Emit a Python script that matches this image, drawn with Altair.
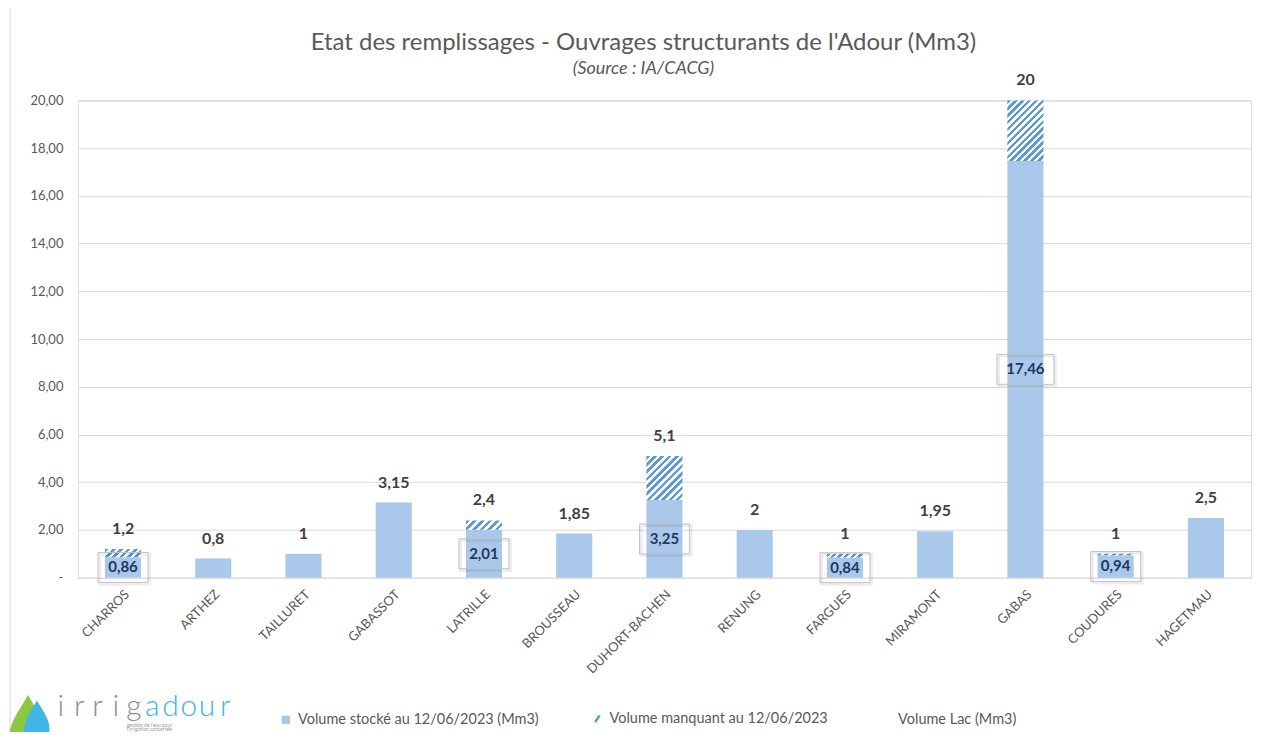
import altair as alt
import pandas as pd

# ---------------- data ----------------
names = ["CHARROS", "ARTHEZ", "TAILLURET", "GABASSOT", "LATRILLE", "BROUSSEAU",
         "DUHORT-BACHEN", "RENUNG", "FARGUES", "MIRAMONT", "GABAS", "COUDURES", "HAGETMAU"]
volume_lac = [1.2, 0.8, 1, 3.15, 2.4, 1.85, 5.1, 2, 1, 1.95, 20, 1, 2.5]
volume_stocke = [0.86, 0.8, 1, 3.15, 2.01, 1.85, 3.25, 2, 0.84, 1.95, 17.46, 0.94, 2.5]
series_names = ["Volume stocké au 12/06/2023 (Mm3)", "Volume manquant au 12/06/2023", "Volume Lac (Mm3)"]

df = pd.DataFrame({"name": names, "lac": volume_lac, "stocke": volume_stocke})
df["manquant"] = (df["lac"] - df["stocke"]).round(2)
hatched = df[df["manquant"] > 0]

# ---------------- style ----------------
W, H = 1175, 478
FONT = "Lato"
BLUE = "#a9c8ea"
HATCH = "#5b9bd5"
GRAY = "#595959"
NAVY = "#1f3864"
BAND = 0.4
bar_w = BAND * W / len(names)

x_enc = alt.X("name:N", sort=names, title=None,
              scale=alt.Scale(paddingInner=1 - BAND, paddingOuter=(1 - BAND) / 2),
              axis=alt.Axis(labelAngle=-45, labelAlign="right", labelBaseline="top",
                            labelPadding=10, labelFont=FONT, labelFontSize=13,
                            labelColor=GRAY, ticks=False, domain=False, grid=False))
y_scale = alt.Scale(domain=[0, 20], nice=False)
y_enc = alt.Y("stocke:Q", scale=y_scale, title=None,
              axis=alt.Axis(values=list(range(0, 21, 2)), ticks=False, domain=False,
                            gridColor="#d9d9d9", labelFont=FONT, labelFontSize=13,
                            labelColor=GRAY, labelPadding=15,
                            labelExpr="datum.value == 0 ? '-' : replace(format(datum.value, '.2f'), '.', ',')"))

base = alt.Chart(df)

is_manq = "datum.label == '" + series_names[1] + "'"
legend = alt.Legend(
    title=None, orient="none", direction="horizontal", legendX=201, legendY=612,
    labelFont=FONT, labelFontSize=14.5, labelColor=GRAY, labelLimit=400,
    columnPadding=50, symbolSize=70, labelOffset=5, padding=0,
    symbolType={"expr": is_manq + " ? 'M-0.55,0.8L0.55,-0.8' : 'square'"},
    symbolStrokeColor={"expr": is_manq + " ? '" + HATCH + "' : 'transparent'"},
    symbolStrokeWidth={"expr": is_manq + " ? 2.5 : 0"},
)

stored = base.transform_calculate(series="'" + series_names[0] + "'").mark_bar().encode(
    x=x_enc,
    y=y_enc,
    color=alt.Color("series:N",
                    scale=alt.Scale(domain=series_names, range=[BLUE, HATCH, "transparent"]),
                    legend=legend),
)


def hatch_fill(h, w, period=7.0):
    r = h / w
    a = (1 + r) / (1 + r * r)
    b = a * r
    n = max(1, int(round((w + h) / period)))
    stops = []
    for k in range(n):
        o0, o1, o2 = k / n, (k + 0.5) / n, (k + 1) / n
        stops += [{"offset": o0, "color": HATCH}, {"offset": o1, "color": HATCH},
                  {"offset": o1, "color": "#ffffff"}, {"offset": o2, "color": "#ffffff"}]
    return {"gradient": "linear", "x1": 0, "y1": 0, "x2": a, "y2": b, "stops": stops}


hatch_layers = []
for _, row in hatched.iterrows():
    h_px = row["manquant"] * H / 20
    hatch_layers.append(
        base.transform_filter(alt.datum.name == row["name"])
        .mark_bar(fill=hatch_fill(h_px, bar_w))
        .encode(x=alt.X("name:N", sort=names), y=alt.Y("stocke:Q", scale=y_scale), y2="lac:Q")
    )

total_labels = base.transform_calculate(
    lbl="replace(toString(datum.lac), '.', ',')"
).mark_text(baseline="bottom", dy=-12, font=FONT, fontSize=16, fontWeight="bold",
            color="#404040").encode(
    x=alt.X("name:N", sort=names), y=alt.Y("lac:Q", scale=y_scale), text="lbl:N")

hb = alt.Chart(hatched).transform_calculate(
    mid="datum.stocke / 2", lbl="replace(toString(datum.stocke), '.', ',')")
box_layers = []
for cond, half in [("length(datum.lbl) <= 4", 1.667), ("length(datum.lbl) > 4", 1.9)]:
    path = "M-{0},-1H{0}V1H-{0}Z".format(half)
    sub = hb.transform_filter(cond)
    box_layers.append(sub.mark_point(shape=path, size=900, filled=False, stroke="#000000",
                                      strokeWidth=3, opacity=0.07, xOffset=1.5, yOffset=1.5)
                      .encode(x=alt.X("name:N", sort=names), y=alt.Y("mid:Q", scale=y_scale)))
    box_layers.append(sub.mark_point(shape=path, size=900, filled=False, stroke="#c4c4c4",
                                      strokeWidth=1, opacity=1)
                      .encode(x=alt.X("name:N", sort=names), y=alt.Y("mid:Q", scale=y_scale)))
box_text = hb.mark_text(font=FONT, fontSize=15, fontWeight="bold", color=NAVY,
                        baseline="middle").encode(
    x=alt.X("name:N", sort=names), y=alt.Y("mid:Q", scale=y_scale), text="lbl:N")

# ---------------- logo & frame ----------------
one = pd.DataFrame({"k": [0]})
DROP = ("M0,-1C0.25,-0.55 0.55,-0.2 0.55,0.25C0.55,0.62 0.3,0.85 0,0.85"
        "C-0.3,0.85 -0.55,0.62 -0.55,0.25C-0.55,-0.2 -0.25,-0.55 0,-1Z")
deco = [
    alt.Chart(one).mark_rule(color="#d9d9d9", strokeWidth=1)
    .encode(x=alt.value(-68), y=alt.value(-100), y2=alt.value(632)),
    alt.Chart(one).mark_point(shape=DROP, filled=True, fill="#8dc63f", opacity=1, size=4761)
    .encode(x=alt.value(-50), y=alt.value(630)),
    alt.Chart(one).mark_point(shape=DROP, filled=True, fill="#41b6e6", opacity=1, size=2100)
    .encode(x=alt.value(-41), y=alt.value(624)),
]
letters = list("irrigadour")
for i, ch in enumerate(letters):
    deco.append(
        alt.Chart(one).mark_text(text=ch, font=FONT, fontSize=30, fontWeight=300,
                                 color="#8a8a8a" if i < 5 else "#3fb3e3",
                                 baseline="alphabetic", align="center")
        .encode(x=alt.value(-17 + i * 18.3), y=alt.value(617))
    )
deco.append(
    alt.Chart(one).mark_text(text="gestion de l'eau pour", font=FONT, fontSize=5,
                             color="#9a9a9a", align="left", baseline="alphabetic")
    .encode(x=alt.value(49), y=alt.value(628))
)
deco.append(
    alt.Chart(one).mark_text(text="l'irrigation concertée", font=FONT, fontSize=5,
                             color="#9a9a9a", align="left", baseline="alphabetic")
    .encode(x=alt.value(49), y=alt.value(632))
)

chart = alt.layer(stored, *hatch_layers, total_labels, *box_layers, box_text,
                  *deco).properties(
    width=W, height=H,
    padding={"left": 70, "top": 92, "right": 8, "bottom": 154},
    autosize=alt.AutoSizeParams(type="none"),
    title=alt.TitleParams(
        text="Etat des remplissages - Ouvrages structurants de l'Adour (Mm3)",
        subtitle="(Source : IA/CACG)", font=FONT, subtitleFont=FONT, fontSize=24,
        subtitleFontSize=18, subtitleFontStyle="italic", fontWeight="normal",
        color=GRAY, subtitleColor=GRAY, anchor="middle", frame="group", offset=-78,
        dx=-21, subtitlePadding=5),
).configure_view(stroke=None).configure(background="white")

chart.save("out.html", embed_options={"renderer": "svg", "actions": False})
